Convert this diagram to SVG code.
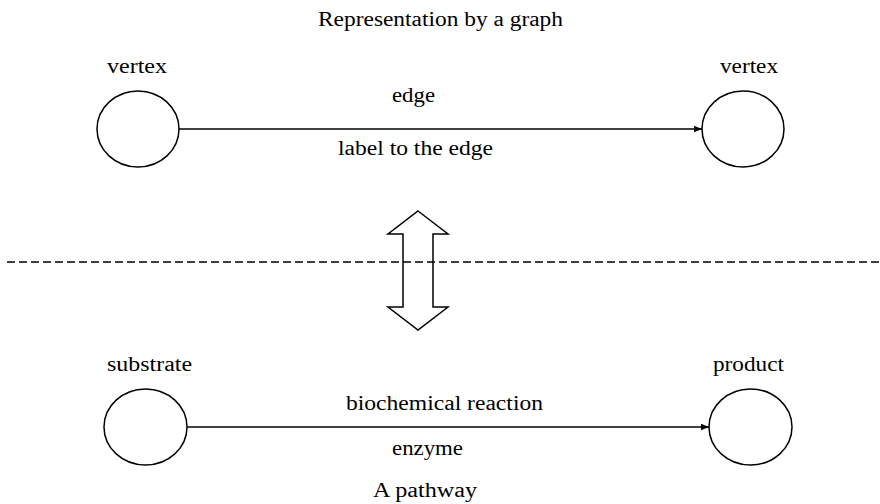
<svg xmlns="http://www.w3.org/2000/svg" width="880" height="504" viewBox="0 0 880 504">
  <style>
    text { font-family: "Liberation Serif", "Times New Roman", serif; font-size: 20px; fill: #000; text-anchor: middle; }
    .node { fill: #fff; stroke: #000; stroke-width: 1.5; }
    .edge { stroke: #000; stroke-width: 1.3; fill: none; marker-end: url(#arrow); }
  </style>
  <defs>
    <marker id="arrow" viewBox="0 0 10 10" refX="10" refY="5" markerWidth="8" markerHeight="8" markerUnits="userSpaceOnUse" orient="auto">
      <path d="M0,1 L10,5 L0,9 Z" fill="#000"/>
    </marker>
  </defs>
  <rect width="880" height="504" fill="#fff"/>

  <text x="440.5" y="26" textLength="245" lengthAdjust="spacingAndGlyphs">Representation by a graph</text>

  <g id="vertex-left">
    <ellipse class="node" cx="138" cy="129" rx="41" ry="38"/>
    <text x="137" y="73" textLength="60" lengthAdjust="spacingAndGlyphs">vertex</text>
  </g>
  <g id="vertex-right">
    <ellipse class="node" cx="743" cy="129" rx="41" ry="38"/>
    <text x="749" y="73" textLength="58" lengthAdjust="spacingAndGlyphs">vertex</text>
  </g>
  <g id="substrate">
    <ellipse class="node" cx="145.5" cy="427" rx="41.5" ry="38"/>
    <text x="149.5" y="371" textLength="85" lengthAdjust="spacingAndGlyphs">substrate</text>
  </g>
  <g id="product">
    <ellipse class="node" cx="750.5" cy="427" rx="41.5" ry="38"/>
    <text x="748.5" y="371" textLength="71" lengthAdjust="spacingAndGlyphs">product</text>
  </g>

  <g id="connectors">
    <line class="edge" x1="179" y1="129" x2="702" y2="129"/>
    <text x="413.5" y="102" textLength="43" lengthAdjust="spacingAndGlyphs">edge</text>
    <text x="415.5" y="155" textLength="155" lengthAdjust="spacingAndGlyphs">label to the edge</text>
    <line class="edge" x1="187" y1="427" x2="709" y2="427"/>
    <text x="444.5" y="410" textLength="197" lengthAdjust="spacingAndGlyphs">biochemical reaction</text>
    <text x="427.5" y="455" textLength="71" lengthAdjust="spacingAndGlyphs">enzyme</text>
  </g>

  <polygon points="418,211 448,234 433,234 433,307 448,307 418,330 388,307 403,307 403,234 388,234" fill="#fff" stroke="#000" stroke-width="1.5"/>

  <line x1="7" y1="262" x2="880" y2="262" stroke="#000" stroke-width="1.5" stroke-dasharray="8,4"/>

  <text x="425" y="497" textLength="104" lengthAdjust="spacingAndGlyphs">A pathway</text>
</svg>
